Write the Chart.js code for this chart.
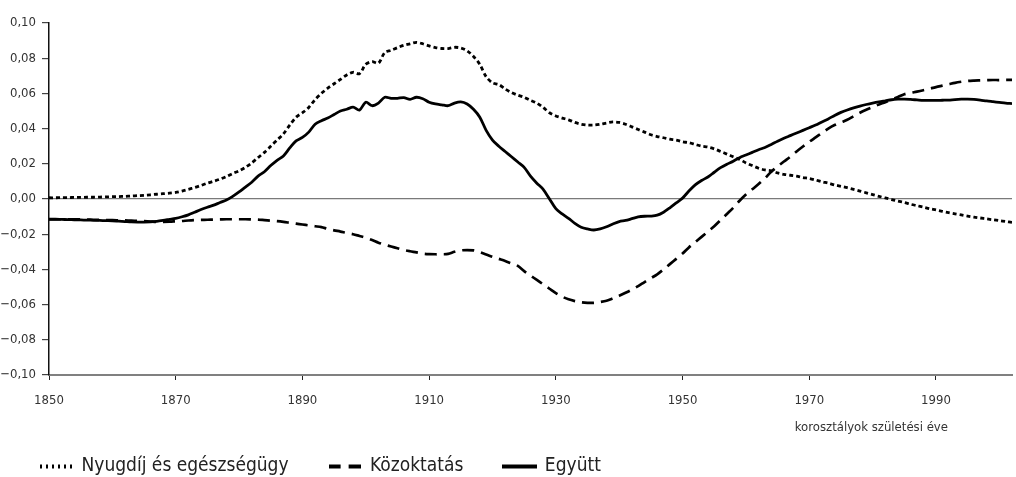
<!DOCTYPE html>
<html>
<head>
<meta charset="utf-8">
<script src="https://cdn.jsdelivr.net/npm/chart.js@4.4.1/dist/chart.umd.min.js"></script>
<style>
  html, body { margin: 0; padding: 0; background: #fff; }
</style>
</head>
<body>
<canvas id="chart" width="1016" height="477"></canvas>
<script>
const firstYear = 1850;
const xTicks = [1850, 1870, 1890, 1910, 1930, 1950, 1970, 1990];
const yTicks = [-0.10, -0.08, -0.06, -0.04, -0.02, 0, 0.02, 0.04, 0.06, 0.08, 0.10];
const yTickLabels = ['−0,10', '−0,08', '−0,06', '−0,04', '−0,02', '0,00', '0,02', '0,04', '0,06', '0,08', '0,10'];
const xTitle = 'korosztályok születési éve';
const seriesNames = ['Nyugdíj és egészségügy', 'Közoktatás', 'Együtt'];

// one value per birth year, 1850 .. 2002
const pension = [
  0.0007, 0.0007, 0.0008, 0.0008, 0.0009, 0.0009, 0.001, 0.001, 0.0011, 0.0012,
  0.0013, 0.0014, 0.0015, 0.0017, 0.0019, 0.0021, 0.0024, 0.0027, 0.003, 0.0033,
  0.0037, 0.0045, 0.0055, 0.0065, 0.0077, 0.009, 0.0101, 0.0113, 0.0127, 0.0145,
  0.016, 0.018, 0.0205, 0.0235, 0.0265, 0.030, 0.0335, 0.037, 0.042, 0.0465,
  0.049, 0.052, 0.0565, 0.060, 0.063, 0.0655, 0.068, 0.0705, 0.072, 0.0712,
  0.0765, 0.078, 0.0772, 0.0832, 0.0845, 0.086, 0.0873, 0.0882, 0.089, 0.0882,
  0.087, 0.086, 0.0855, 0.0855, 0.0862, 0.0858, 0.0842, 0.081, 0.0765, 0.0695,
  0.066, 0.065, 0.0625, 0.0605, 0.059, 0.0578, 0.056, 0.0545, 0.052, 0.049,
  0.0472, 0.046, 0.045, 0.0435, 0.0425, 0.042, 0.042, 0.0425, 0.0432, 0.0438,
  0.0435, 0.0425, 0.041, 0.0395, 0.038, 0.0365, 0.0355, 0.0348, 0.034, 0.0335,
  0.0325, 0.032, 0.031, 0.030, 0.0295, 0.0285, 0.027, 0.0255, 0.024, 0.0225,
  0.0205, 0.019, 0.0175, 0.0165, 0.016, 0.0148, 0.014, 0.0135, 0.013, 0.0122,
  0.0117, 0.0108, 0.0098, 0.009, 0.008, 0.0072, 0.0064, 0.0055, 0.0045, 0.0035,
  0.0025, 0.0015, 0.0006, -0.0003, -0.0012, -0.002, -0.003, -0.0038, -0.0046, -0.0055,
  -0.0062, -0.007, -0.0077, -0.0084, -0.009, -0.0097, -0.0103, -0.0108, -0.0113, -0.0118,
  -0.0123, -0.0128, -0.0133
];
const education = [
  -0.0115, -0.0115, -0.0115, -0.0115, -0.0115, -0.0116, -0.0117, -0.0118, -0.0119, -0.012,
  -0.012, -0.0121, -0.0122, -0.0123, -0.0124, -0.0126, -0.0128, -0.013, -0.013, -0.0129,
  -0.0127, -0.0125, -0.0122, -0.012, -0.0119, -0.0118, -0.0117, -0.0116, -0.0115, -0.0115,
  -0.0115, -0.0115, -0.0116, -0.0117, -0.012, -0.0123, -0.0126, -0.013, -0.0135, -0.014,
  -0.0145, -0.015, -0.0155, -0.016, -0.017, -0.0178, -0.0185, -0.0193, -0.020, -0.021,
  -0.022, -0.0233, -0.0248, -0.026, -0.027, -0.028, -0.029, -0.0297, -0.0303, -0.031,
  -0.0313, -0.0314, -0.0314, -0.0312, -0.030, -0.0292, -0.029, -0.0292, -0.0302, -0.0315,
  -0.0328, -0.034, -0.0352, -0.0366, -0.038, -0.041, -0.0435, -0.046, -0.0485, -0.051,
  -0.0535, -0.0555, -0.057, -0.058, -0.0587, -0.059, -0.059, -0.0585, -0.0578, -0.0565,
  -0.055, -0.0533, -0.0515, -0.0495, -0.0472, -0.045, -0.0428, -0.040, -0.037, -0.034,
  -0.031, -0.0275, -0.0245, -0.0215, -0.0185, -0.0155, -0.012, -0.0085, -0.005, -0.001,
  0.0025, 0.0055, 0.0085, 0.0118, 0.0155, 0.0185, 0.0213, 0.024, 0.027, 0.0298,
  0.0325, 0.035, 0.0375, 0.040, 0.042, 0.0435, 0.045, 0.047, 0.049, 0.0507,
  0.0522, 0.0537, 0.055, 0.0565, 0.058, 0.0595, 0.0603, 0.061, 0.0618, 0.0627,
  0.0636, 0.0644, 0.0652, 0.066, 0.0666, 0.0671, 0.0673, 0.0674, 0.0675, 0.0676,
  0.0676, 0.0677, 0.0677
];
const combined = [
  -0.0115, -0.0115, -0.0116, -0.0117, -0.0118, -0.0119, -0.012, -0.0121, -0.0122, -0.0123,
  -0.0124, -0.0126, -0.0128, -0.013, -0.0131, -0.0131, -0.013, -0.0127, -0.0122, -0.0116,
  -0.011, -0.0101, -0.009, -0.0075, -0.006, -0.0047, -0.0035, -0.002, -0.0006, 0.0015,
  0.004, 0.0068, 0.0095, 0.013, 0.0155, 0.019, 0.022, 0.0245, 0.029, 0.033,
  0.035, 0.038, 0.0425, 0.0445, 0.046, 0.048, 0.050, 0.051, 0.0522, 0.0505,
  0.055, 0.053, 0.0545, 0.0578, 0.0572, 0.0572, 0.0576, 0.0566, 0.0578, 0.057,
  0.055, 0.054, 0.0535, 0.053, 0.0545, 0.0552, 0.054, 0.051, 0.0465, 0.039,
  0.0335, 0.030, 0.027, 0.024, 0.021, 0.018, 0.013, 0.009, 0.0055, 0.0,
  -0.0055, -0.0085, -0.011, -0.0138, -0.016, -0.017, -0.0176, -0.017, -0.0158, -0.0142,
  -0.0128, -0.0122, -0.0112, -0.0102, -0.0098, -0.0097, -0.0092, -0.0075, -0.005, -0.0022,
  0.0005, 0.0045, 0.008, 0.0105, 0.0125, 0.0152, 0.0178, 0.0198, 0.0215, 0.0235,
  0.025, 0.0265, 0.028, 0.0293, 0.031, 0.0328, 0.0345, 0.036, 0.0375, 0.039,
  0.0405, 0.042, 0.0438, 0.0455, 0.0475, 0.0492, 0.0506, 0.0518, 0.0528, 0.0537,
  0.0545, 0.0552, 0.0558, 0.0564, 0.0567, 0.0568, 0.0566, 0.0563, 0.056, 0.056,
  0.056, 0.0561, 0.0562, 0.0565, 0.0567, 0.0568, 0.0566, 0.0562, 0.0557, 0.0553,
  0.0549, 0.0545, 0.0542
];

const fontFamily = "'Liberation Sans Narrow', 'Arial Narrow', 'DejaVu Sans Condensed', Roboto, sans-serif";
const lineStyles = [
  { dash: [4, 3], width: 2.8 },
  { dash: [12, 7], width: 2.7 },
  { dash: [], width: 2.8 }
];

function toPoints(values) {
  return values.map((v, i) => ({ x: firstYear + i, y: v }));
}

// little legend swatches: dotted, dashed, solid
function swatch(dash, w, len) {
  const c = document.createElement('canvas');
  c.width = len;
  c.height = 8;
  const g = c.getContext('2d');
  g.strokeStyle = '#000';
  g.lineWidth = w;
  g.setLineDash(dash);
  g.beginPath();
  g.moveTo(0, 4);
  g.lineTo(len, 4);
  g.stroke();
  return c;
}
const legendSwatches = [swatch([2, 4], 4, 32), swatch([12, 8], 4, 32), swatch([], 4, 35)];

// axis title sits under the last tick, not at the axis end
const xTitlePlugin = {
  id: 'xTitle',
  afterDraw(chart) {
    const x = chart.scales.x;
    const ctx = chart.ctx;
    ctx.save();
    ctx.font = '13px ' + fontFamily;
    ctx.fillStyle = '#333';
    ctx.textAlign = 'right';
    ctx.textBaseline = 'middle';
    ctx.fillText(xTitle, x.getPixelForValue(xTicks[xTicks.length - 1]) + 12, x.bottom + 11);
    ctx.restore();
  }
};

const series = [pension, education, combined];

new Chart(document.getElementById('chart').getContext('2d'), {
  type: 'line',
  data: {
    datasets: series.map((s, i) => ({
      label: seriesNames[i],
      data: toPoints(s),
      borderColor: '#000',
      backgroundColor: '#000',
      borderWidth: lineStyles[i].width,
      borderDash: lineStyles[i].dash,
      pointRadius: 0,
      tension: 0.3,
      fill: false
    }))
  },
  options: {
    responsive: false,
    animation: false,
    layout: { padding: { top: 23, right: 4, bottom: -9, left: 0 } },
    plugins: {
      tooltip: { enabled: false },
      legend: {
        position: 'bottom',
        align: 'start',
        labels: {
          usePointStyle: true,
          pointStyleWidth: 32,
          padding: 40,
          color: '#222',
          font: { family: fontFamily, size: 19 },
          generateLabels: chart =>
            Chart.defaults.plugins.legend.labels.generateLabels(chart).map((item, i) => ({
              ...item,
              pointStyle: legendSwatches[i]
            }))
        }
      }
    },
    scales: {
      x: {
        type: 'linear',
        min: 1850,
        max: 2002,
        afterBuildTicks: scale => { scale.ticks = xTicks.map(v => ({ value: v })); },
        afterFit: scale => { scale.height = 42; },
        ticks: {
          autoSkip: false,
          maxRotation: 0,
          padding: 13,
          color: '#333',
          font: { family: fontFamily, size: 13 },
          callback: v => String(v)
        },
        grid: { drawOnChartArea: false, tickLength: 5, tickColor: '#222', tickWidth: 1 },
        border: { color: '#808080', width: 2 }
      },
      y: {
        min: -0.1,
        max: 0.1,
        afterBuildTicks: scale => { scale.ticks = yTicks.map(v => ({ value: v })); },
        afterFit: scale => { scale.width = 49; },
        ticks: {
          padding: 6,
          color: '#333',
          font: { family: fontFamily, size: 13 },
          callback: (v, i) => yTickLabels[i]
        },
        grid: {
          color: ctx => (ctx.tick && Math.abs(ctx.tick.value) < 1e-9 ? '#7a7a7a' : 'transparent'),
          lineWidth: 1.2,
          tickLength: 7,
          tickColor: '#444',
          tickWidth: 1.2
        },
        border: { color: '#111', width: 1.5 }
      }
    }
  },
  plugins: [xTitlePlugin]
});
</script>
</body>
</html>
